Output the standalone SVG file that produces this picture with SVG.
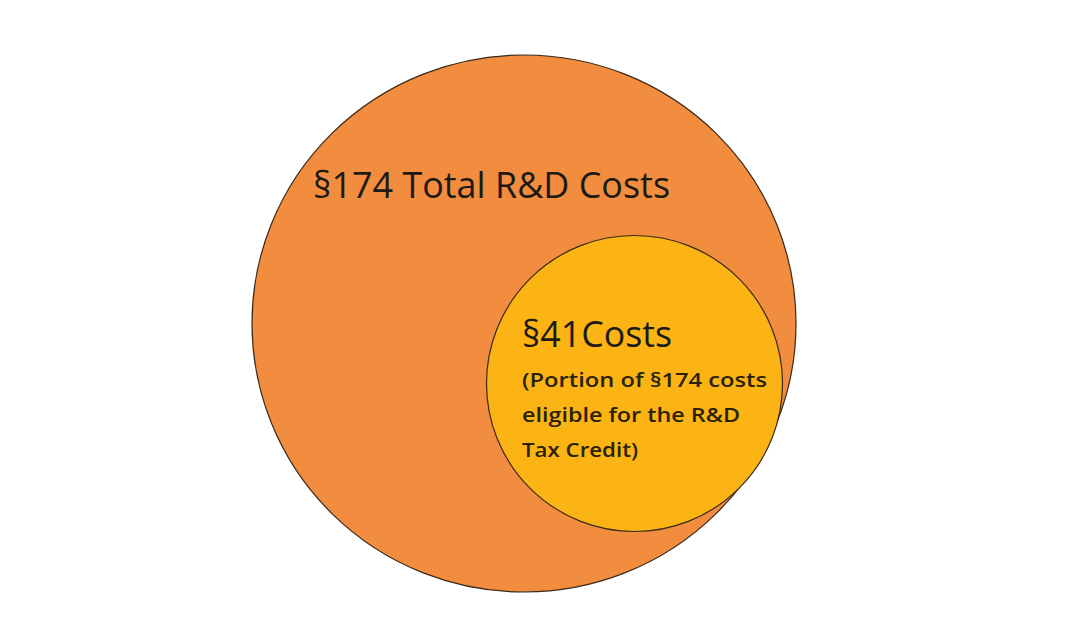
<svg xmlns="http://www.w3.org/2000/svg" width="1072" height="620" viewBox="0 0 1072 620">
<style>
.t{font-family:"Open Sans","Liberation Sans",sans-serif;fill:#1c1a14}
.big{font-size:36px}
.sm{font-size:20px;font-weight:600;fill:#2a2205}
</style>
<rect width="1072" height="620" fill="#ffffff"/>
<g id="total">
<ellipse cx="524" cy="323.5" rx="272" ry="268.5" fill="#F28C3E" stroke="#3a2a1a" stroke-width="1.2"/>
<text class="t big" x="313" y="198" textLength="357" lengthAdjust="spacingAndGlyphs">§174 Total R&amp;D Costs</text>
</g>
<g id="sec41">
<circle cx="634.5" cy="383.5" r="148" fill="#FCB414" stroke="#3a2a1a" stroke-width="1.2"/>
<text class="t big" x="522" y="347" textLength="150" lengthAdjust="spacingAndGlyphs">§41Costs</text>
<text class="t sm" x="522" y="387" textLength="245" lengthAdjust="spacingAndGlyphs">(Portion of §174 costs</text>
<text class="t sm" x="522" y="422" textLength="218" lengthAdjust="spacingAndGlyphs">eligible for the R&amp;D</text>
<text class="t sm" x="522" y="457" textLength="116" lengthAdjust="spacingAndGlyphs">Tax Credit)</text>
</g>
<g id="connectors"/>
</svg>
